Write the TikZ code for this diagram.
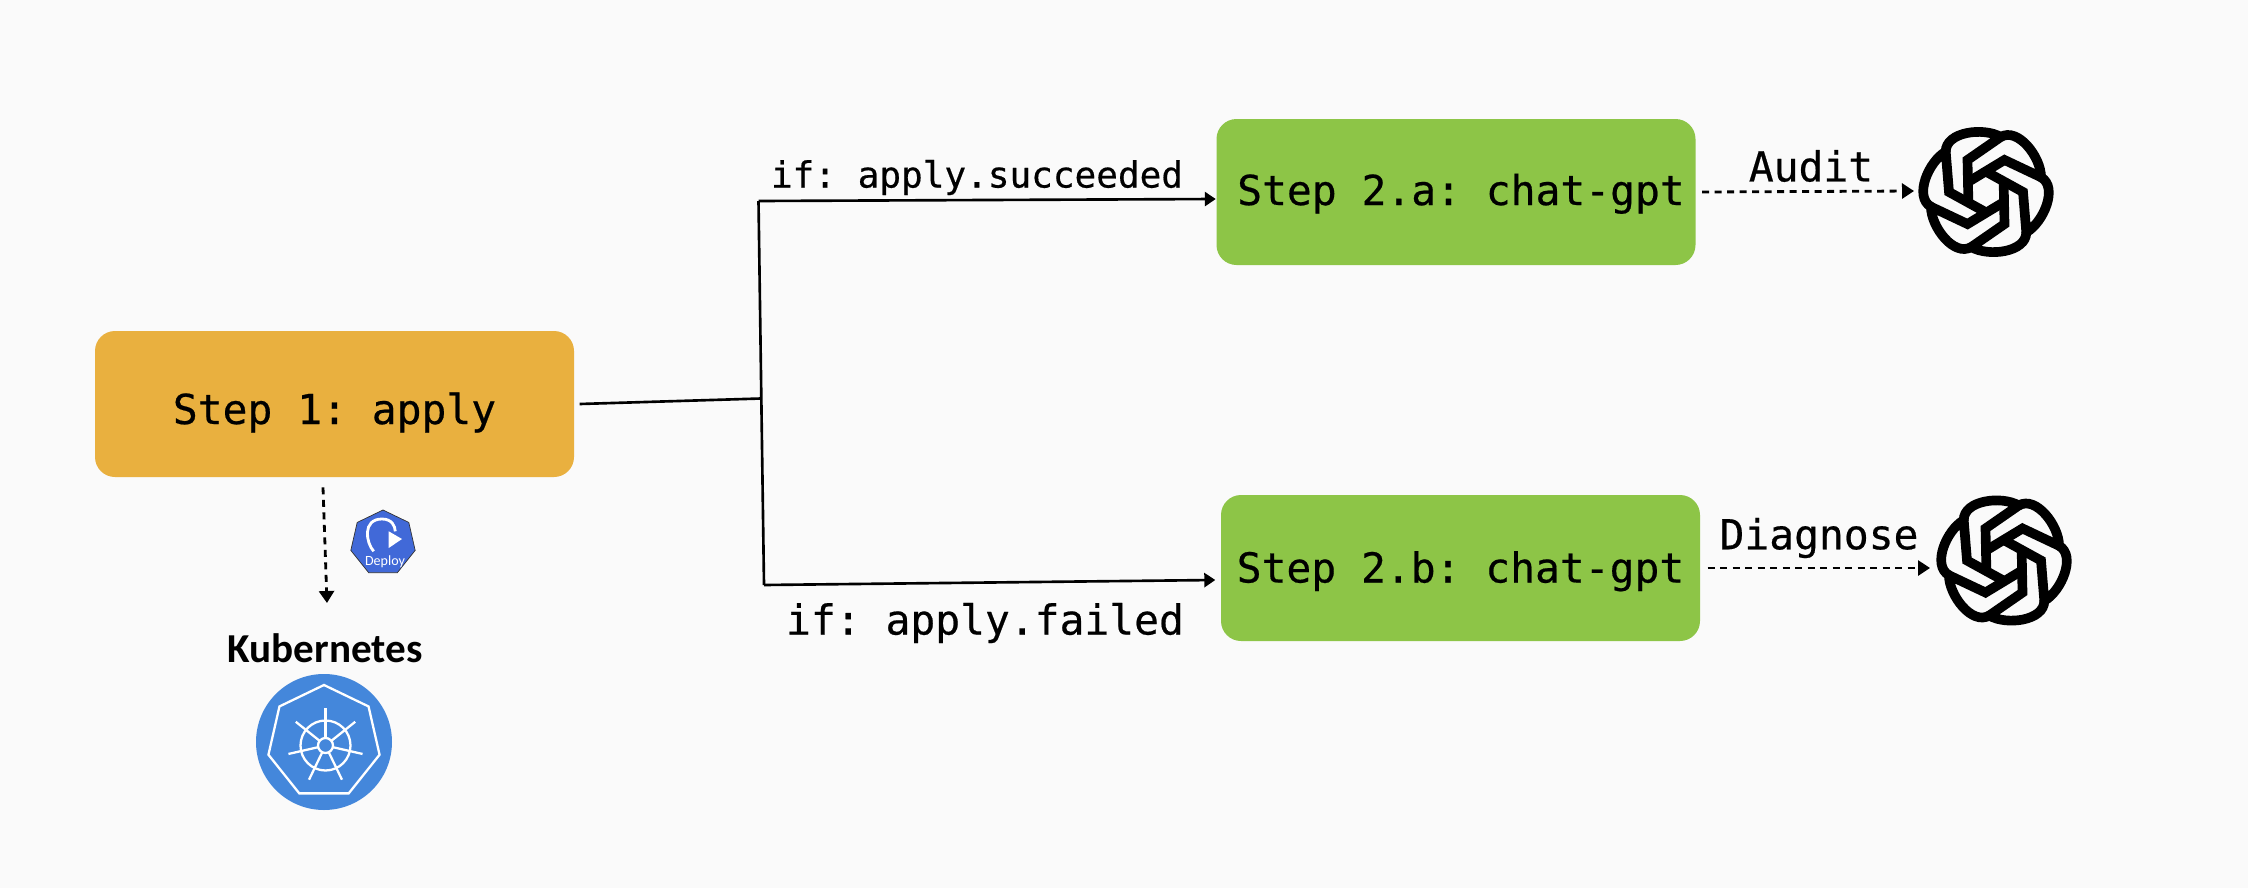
\documentclass[tikz,border=0pt]{standalone}
\usepackage{fontspec}
\setmonofont[FakeBold=0.5]{DejaVu Sans Mono}
\newfontfamily\handfont{Carlito}
\usetikzlibrary{arrows.meta,shapes.geometric}

\definecolor{paper}{HTML}{FAFAFA}
\definecolor{applyorange}{HTML}{E9B03F}
\definecolor{gptgreen}{HTML}{8DC547}
\definecolor{kubeblue}{HTML}{4487DB}
\definecolor{deployblue}{HTML}{4169D8}

\tikzset{
  stepbox/.style={fill=#1, rounded corners=0.2cm, minimum width=4.79cm,
    minimum height=1.46cm, inner sep=0pt, font=\ttfamily\fontsize{11.75}{14}\selectfont},
  iflabel/.style={inner sep=0pt, font=\ttfamily\fontsize{#1}{14}\selectfont},
  flow/.style={line width=0.75pt, -{Triangle[length=1.1mm,width=1.4mm]}},
  trunk/.style={line width=0.75pt},
  call/.style={line width=0.8pt, dash pattern=on 0.7mm off 0.55mm,
    -{Triangle[length=1.2mm,width=1.5mm]}},
  gptlogo/.pic={
    \foreach \a in {0,60,...,300} {
      \draw [rotate=\a, line width=2.75pt, miter limit=4]
        (135:.57) .. controls +(90:.2) and +(150:.2) .. (75:.57)
        -- (120:.37) -- (205:.195);
    }
  }
}

\begin{document}
\begin{tikzpicture}
  \fill [paper] (0,0) rectangle (22.48,8.88);
  %steps
  \node (step1) [stepbox=applyorange, text height=0.45cm, text depth=0.05cm] at (3.345,4.84) {Step 1: apply};
  \node (stepa) [stepbox=gptgreen, text height=0.36cm, text depth=0.1cm] at (14.56,6.96) {\hspace{0.1cm}Step 2.a: chat-gpt};
  \node (stepb) [stepbox=gptgreen, text height=0.39cm, text depth=0.1cm] at (14.605,3.20) {Step 2.b: chat-gpt};
  %branch
  \coordinate (fork) at (7.61,4.895);
  \coordinate (forktop) at (7.585,6.87);
  \coordinate (forkbot) at (7.64,3.03);
  \draw [trunk] ([xshift=0.05cm]step1.east) -- (fork);
  \draw [trunk] (forkbot) -- (forktop);
  \draw [flow] (forktop) -- ([yshift=-0.07cm]stepa.west);
  \draw [flow] (forkbot) -- ([yshift=-0.12cm,xshift=-0.05cm]stepb.west);
  \node (ifok) [iflabel=10.25] at (9.77,7.105) {if: apply.succeeded};
  \node (iffail) [iflabel=11.75] at (9.85,2.65) {if: apply.failed};
  %chat-gpt logos
  \pic (logoa) at (19.86,6.96) {gptlogo};
  \pic (logob) at (20.04,3.275) {gptlogo};
  \coordinate (logoain) at (19.14,6.97);
  \coordinate (logobin) at (19.30,3.20);
  \draw [call] ([xshift=0.06cm]stepa.east) -- (logoain);
  \draw [call] ([xshift=0.07cm]stepb.east) -- (logobin);
  \node (audit) [iflabel=11.75] at (18.11,7.22) {Audit};
  \node (diagnose) [iflabel=11.75] at (18.19,3.50) {Diagnose};
  %deploy
  \node (deploy) [regular polygon, regular polygon sides=7, draw=black!80,
    line width=0.2pt, fill=deployblue, minimum size=0.66cm, inner sep=0pt] at (3.83,3.45) {};
  \draw [white, line width=0.8pt] (3.737,3.367)
    .. controls (3.66,3.45) and (3.62,3.69) .. (3.82,3.69)
    .. controls (3.92,3.69) and (3.95,3.62) .. (3.953,3.567);
  \fill [white] (3.887,3.567) -- (4.02,3.49) -- (3.887,3.40) -- cycle;
  \node (deploytxt) [white, inner sep=0pt, font=\handfont\fontsize{4}{5}\selectfont] at (3.85,3.26) {Deploy};
  \coordinate (kubetop) at (3.27,2.85);
  \draw [call] ([xshift=-0.115cm,yshift=-0.097cm]step1.south) -- (kubetop);
  %kubernetes
  \node (kubetxt) [inner sep=0pt, font=\handfont\bfseries\fontsize{11.7}{12}\selectfont] at (3.25,2.40) {Kubernetes};
  \node (kube) [circle, fill=kubeblue, minimum size=1.36cm, inner sep=0pt] at (3.24,1.46) {};
  \begin{scope}[shift={(kube.center)}, white, line width=0.65pt]
    \draw (90:.57) -- (38.6:.57) -- (-12.9:.57) -- (-64.3:.57)
      -- (-115.7:.57) -- (-167.1:.57) -- (141.4:.57) -- cycle;
    \begin{scope}[shift={(0.015,-0.035)}]
      \draw (0,0) circle (.25);
      \draw (0,0) circle (.075);
      \foreach \a in {0,...,6}
        \draw ({90+\a*360/7}:.075) -- ({90+\a*360/7}:.38);
    \end{scope}
  \end{scope}
\end{tikzpicture}
\end{document}
